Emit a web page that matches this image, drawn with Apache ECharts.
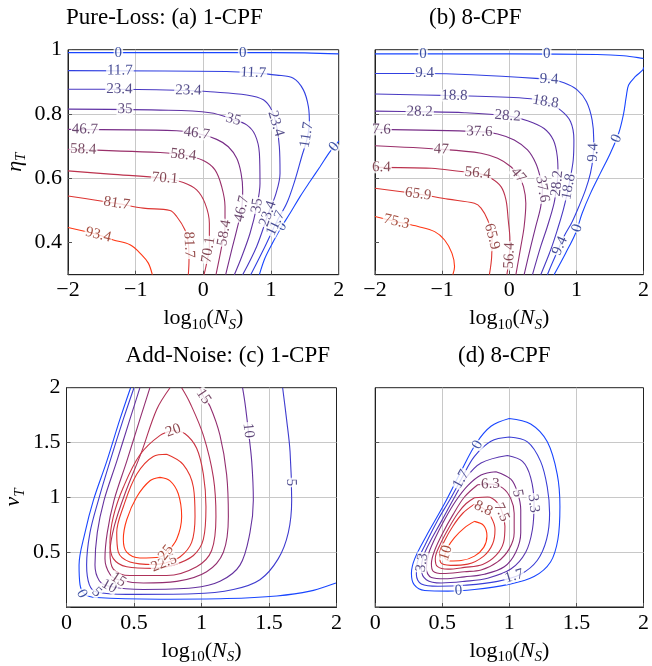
<!DOCTYPE html>
<html><head><meta charset="utf-8">
<script src="https://cdn.jsdelivr.net/npm/echarts@6/dist/echarts.min.js"></script>
<style>html,body{margin:0;padding:0;background:#fff}#c{width:652px;height:666px}</style>
</head><body><div id="c"></div>
<script>
// ================= DATA =================
// Panel (a) Pure-Loss, 1-CPF : x = log10(N_S), y = eta_T
const a0Top   = [[-2,0.991],[-1,0.991],[0,0.991],[1,0.991],[1.5,0.99],[2,0.987]];
const a0TopL  = [[-1.256,0.991],[0.581,0.991]];
const a0Right = [[2,0.716],[1.995,0.714],[1.872,0.683],[1.724,0.636],[1.576,0.590],[1.429,0.543],[1.281,0.491],[1.158,0.450],[1.034,0.403],[0.911,0.352],[0.828,0.3]];
const a0RightL= [[1.931,0.698],[1.158,0.450]];
const a117  = [[-2,0.935],[0.345,0.932],[0.739,0.928],[1.084,0.921],[1.330,0.911],[1.478,0.875],[1.552,0.823],[1.567,0.771],[1.527,0.719],[1.453,0.667],[1.355,0.595],[1.232,0.522],[1.084,0.465],[0.911,0.388],[0.700,0.3]];
const a117L = [[-1.232,0.935],[0.739,0.928],[1.527,0.735],[1.07,0.46]];
const a234  = [[-2,0.877],[-1.281,0.877],[-0.222,0.873],[0.099,0.869],[0.640,0.859],[0.887,0.844],[1.010,0.812],[1.084,0.761],[1.123,0.698],[1.133,0.616],[1.074,0.553],[0.961,0.491],[0.788,0.388],[0.581,0.3]];
const a234L = [[-1.241,0.877],[-0.222,0.873],[1.07,0.77],[0.955,0.49]];
const a35   = [[-2,0.815],[-0.640,0.812],[0.099,0.804],[0.443,0.783],[0.640,0.766],[0.764,0.735],[0.828,0.678],[0.837,0.584],[0.788,0.512],[0.690,0.429],[0.567,0.356],[0.458,0.3]];
const a35L  = [[-1.158,0.815],[0.443,0.783],[0.795,0.515]];
const a467  = [[-2,0.752],[-0.394,0.748],[-0.099,0.740],[0.197,0.721],[0.369,0.698],[0.493,0.662],[0.557,0.616],[0.581,0.564],[0.567,0.507],[0.493,0.439],[0.419,0.377],[0.330,0.3]];
const a467L = [[-1.749,0.752],[-0.099,0.740],[0.567,0.505]];
const a584  = [[-2,0.690],[-0.640,0.680],[-0.296,0.673],[0,0.655],[0.172,0.626],[0.271,0.574],[0.320,0.512],[0.320,0.450],[0.271,0.388],[0.187,0.3]];
const a584L = [[-1.773,0.690],[-0.296,0.673],[0.31,0.43]];
const a701  = [[-2,0.623],[-1.379,0.613],[-0.567,0.600],[-0.296,0.587],[-0.099,0.564],[0.025,0.522],[0.089,0.460],[0.089,0.388],[0.049,0.336],[0.010,0.3]];
const a701L = [[-0.567,0.600],[0.074,0.377]];
const a817  = [[-2,0.545],[-1.281,0.522],[-0.887,0.507],[-0.493,0.500],[-0.394,0.481],[-0.271,0.439],[-0.222,0.398],[-0.212,0.346],[-0.222,0.3]];
const a817L = [[-1.281,0.522],[-0.212,0.393]];
const a934  = [[-2,0.447],[-1.552,0.424],[-1.330,0.408],[-1.084,0.393],[-0.911,0.362],[-0.813,0.336],[-0.754,0.3]];
const a934L = [[-1.552,0.424]];

// Panel (b) Pure-Loss, 8-CPF
const b0Top   = [[-2,0.987],[0,0.987],[1.309,0.985],[1.704,0.981],[1.990,0.973],[2,0.972]];
const b0TopL  = [[-1.284,0.987],[0.558,0.987]];
const b0Right = [[2,0.945],[1.990,0.937],[1.877,0.916],[1.778,0.890],[1.743,0.854],[1.704,0.802],[1.630,0.740],[1.506,0.678],[1.358,0.616],[1.210,0.553],[1.086,0.491],[0.988,0.429],[0.840,0.367],[0.667,0.3]];
const b0RightL= [[1.60,0.724],[1.013,0.445]];
const b94   = [[-2,0.926],[-1.259,0.926],[0.593,0.908],[0.815,0.897],[1.012,0.875],[1.151,0.838],[1.235,0.781],[1.259,0.719],[1.249,0.667],[1.210,0.616],[1.136,0.564],[1.037,0.512],[0.938,0.465],[0.815,0.419],[0.716,0.372],[0.617,0.325],[0.568,0.3]];
const b94L  = [[-1.259,0.926],[0.593,0.908],[1.252,0.68],[0.755,0.39]];
const b188  = [[-2,0.862],[-0.815,0.857],[0.222,0.849],[0.543,0.838],[0.765,0.812],[0.914,0.776],[0.963,0.719],[0.953,0.657],[0.904,0.595],[0.864,0.553],[0.805,0.502],[0.716,0.439],[0.617,0.377],[0.469,0.3]];
const b188L = [[-0.815,0.857],[0.543,0.838],[0.884,0.574]];
const b282  = [[-2,0.809],[-1.333,0.807],[-0.667,0.804],[-0.025,0.794],[0.272,0.779],[0.519,0.755],[0.657,0.719],[0.716,0.667],[0.726,0.616],[0.706,0.574],[0.667,0.522],[0.568,0.450],[0.469,0.388],[0.346,0.3]];
const b282L = [[-1.333,0.807],[-0.025,0.794],[0.712,0.584]];
const b376  = [[-2,0.752],[-0.444,0.745],[-0.173,0.738],[0.074,0.719],[0.272,0.688],[0.395,0.647],[0.459,0.605],[0.494,0.564],[0.469,0.512],[0.395,0.450],[0.321,0.388],[0.222,0.3]];
const b376L = [[-1.905,0.752,'7.6'],[-0.444,0.745],[0.494,0.566]];
const b47   = [[-2,0.701],[-1.012,0.690],[-0.420,0.678],[-0.173,0.662],[0.025,0.636],[0.133,0.610],[0.212,0.574],[0.247,0.522],[0.222,0.450],[0.173,0.388],[0.099,0.3]];
const b47L  = [[-1.012,0.690],[0.133,0.610]];
const b564  = [[-2,0.634],[-1.160,0.631],[-0.716,0.621],[-0.469,0.616],[-0.272,0.600],[-0.123,0.574],[-0.049,0.533],[-0.015,0.470],[0.010,0.408],[0,0.356],[-0.035,0.3]];
const b564L = [[-1.905,0.634,'6.4'],[-0.469,0.616],[0.003,0.36]];
const b659  = [[-2,0.569],[-1.358,0.551],[-0.914,0.535],[-0.519,0.522],[-0.420,0.507],[-0.321,0.470],[-0.257,0.419],[-0.262,0.356],[-0.296,0.3]];
const b659L = [[-1.358,0.551],[-0.257,0.419]];
const b753  = [[-2,0.481],[-1.679,0.465],[-1.358,0.450],[-1.111,0.434],[-0.963,0.408],[-0.854,0.367],[-0.815,0.325],[-0.840,0.3]];
const b753L = [[-1.679,0.465]];

// Panel (c) Add-Noise, 1-CPF : y = nu_T
const c0   = [[0.475,2.0],[0.396,1.713],[0.298,1.328],[0.199,0.973],[0.137,0.678],[0.093,0.382],[0.1,0.204],[0.137,0.115],[0.223,0.086],[0.693,0.071],[1.186,0.077],[1.557,0.101],[1.804,0.145],[1.996,0.219],[2,0.221]];
const c0L  = [[0.112,0.121]];
const c5   = [[0.5,2.0],[0.421,1.713],[0.322,1.328],[0.236,0.973],[0.174,0.678],[0.149,0.382],[0.169,0.204],[0.223,0.136],[0.446,0.115],[0.940,0.121],[1.236,0.160],[1.433,0.249],[1.569,0.441],[1.643,0.678],[1.668,0.973],[1.656,1.417],[1.630,1.713],[1.601,2.0]];
const c5L  = [[0.223,0.136],[1.663,1.136]];
const c10  = [[0.544,2.0],[0.470,1.713],[0.372,1.328],[0.278,0.973],[0.228,0.678],[0.211,0.382],[0.243,0.240],[0.317,0.189],[0.569,0.160],[0.940,0.175],[1.137,0.234],[1.285,0.382],[1.359,0.678],[1.384,0.973],[1.372,1.328],[1.347,1.609],[1.322,1.861],[1.304,2.0]];
const c10L = [[0.317,0.189],[1.347,1.609]];
const c15  = [[0.618,2.0],[0.544,1.713],[0.446,1.328],[0.352,0.973],[0.302,0.678],[0.285,0.441],[0.322,0.299],[0.384,0.249],[0.569,0.219],[0.816,0.234],[1.038,0.322],[1.162,0.5],[1.199,0.825],[1.186,1.210],[1.137,1.565],[1.063,1.831],[1.014,1.920],[0.989,2.0]];
const c15L = [[0.384,0.249],[1.014,1.920]];
const c175 = [[0.767,2.0],[0.668,1.802],[0.557,1.417],[0.433,1.033],[0.354,0.737],[0.322,0.5],[0.347,0.346],[0.470,0.287],[0.742,0.287],[0.964,0.367],[1.075,0.515],[1.107,0.825],[1.088,1.182],[1.014,1.565],[0.915,1.861],[0.853,2.0]];
const c175L = [];
const c20  = [[0.791,1.609],[0.693,1.565],[0.544,1.388],[0.421,1.092],[0.347,0.825],[0.322,0.589],[0.347,0.441],[0.446,0.367],[0.643,0.352],[0.791,0.382],[0.940,0.470],[1.014,0.618],[1.033,0.914],[1.014,1.210],[0.964,1.447],[0.878,1.580],[0.791,1.609]];
const c20L = [[0.791,1.609]];
const c225 = [[0.742,1.393],[0.643,1.373],[0.520,1.210],[0.421,0.914],[0.372,0.678],[0.384,0.5],[0.470,0.411],[0.643,0.388],[0.722,0.398],[0.840,0.456],[0.927,0.589],[0.952,0.825],[0.940,1.092],[0.865,1.299],[0.742,1.393]];
const c225L = [[0.722,0.400]];
const c25  = [[0.693,1.182],[0.618,1.151],[0.520,1.003],[0.446,0.796],[0.421,0.618],[0.446,0.5],[0.544,0.447],[0.693,0.456],[0.737,0.490],[0.816,0.618],[0.853,0.825],[0.828,1.033],[0.767,1.151],[0.693,1.182]];
const c25L = [[0.737,0.495]];

// Panel (d) Add-Noise, 8-CPF
const d0   = [[0.999,1.719],[1.159,1.669],[1.283,1.506],[1.357,1.210],[1.377,0.914],[1.362,0.618],[1.307,0.411],[1.184,0.278],[0.986,0.204],[0.740,0.160],[0.542,0.145],[0.369,0.151],[0.290,0.204],[0.270,0.308],[0.295,0.441],[0.381,0.648],[0.517,0.944],[0.641,1.240],[0.752,1.491],[0.863,1.648],[0.999,1.719]];
const d0L  = [[0.764,1.480],[0.621,0.150]];
const d17  = [[0.999,1.550],[1.135,1.506],[1.233,1.328],[1.283,1.092],[1.300,0.855],[1.278,0.618],[1.209,0.426],[1.085,0.299],[0.912,0.234],[0.665,0.198],[0.468,0.189],[0.344,0.210],[0.307,0.293],[0.315,0.411],[0.369,0.559],[0.468,0.796],[0.554,0.973],[0.641,1.166],[0.740,1.373],[0.863,1.512],[0.999,1.550]];
const d17L = [[0.641,1.166],[1.036,0.281]];
const d33  = [[0.986,1.382],[1.098,1.328],[1.159,1.180],[1.184,0.944],[1.172,0.707],[1.122,0.5],[1.011,0.346],[0.838,0.263],[0.665,0.234],[0.493,0.219],[0.381,0.249],[0.344,0.346],[0.357,0.456],[0.406,0.589],[0.493,0.781],[0.579,0.973],[0.678,1.180],[0.789,1.314],[0.986,1.382]];
const d33L = [[1.18,0.944],[0.349,0.405]];
const d5   = [[0.900,1.234],[1.011,1.166],[1.060,1.047],[1.085,0.885],[1.085,0.678],[1.048,0.5],[0.962,0.367],[0.814,0.299],[0.665,0.275],[0.517,0.257],[0.419,0.269],[0.381,0.346],[0.394,0.470],[0.443,0.618],[0.517,0.796],[0.604,0.973],[0.690,1.107],[0.789,1.204],[0.900,1.234]];
const d5L  = [[1.062,1.038]];
const d63  = [[0.764,1.115],[0.858,1.121],[0.949,1.086],[1.011,0.988],[1.036,0.855],[1.036,0.678],[0.999,0.530],[0.912,0.411],[0.789,0.337],[0.665,0.322],[0.505,0.305],[0.431,0.328],[0.419,0.396],[0.443,0.515],[0.505,0.678],[0.579,0.840],[0.665,1.003],[0.764,1.115]];
const d63L = [[0.858,1.121]];
const d75  = [[0.740,0.997],[0.838,1.003],[0.912,0.950],[0.949,0.855],[0.967,0.737],[0.957,0.589],[0.900,0.470],[0.801,0.388],[0.665,0.361],[0.542,0.345],[0.463,0.370],[0.448,0.441],[0.480,0.559],[0.542,0.707],[0.616,0.855],[0.678,0.944],[0.740,0.997]];
const d75L = [[0.942,0.864]];
const d88  = [[0.740,0.938],[0.806,0.899],[0.863,0.820],[0.893,0.707],[0.875,0.574],[0.809,0.464],[0.690,0.391],[0.562,0.380],[0.488,0.405],[0.480,0.485],[0.517,0.604],[0.579,0.737],[0.653,0.855],[0.740,0.938]];
const d88L = [[0.806,0.899]];
const d10  = [[0.740,0.781],[0.809,0.743],[0.833,0.648],[0.809,0.544],[0.740,0.464],[0.641,0.424],[0.554,0.420],[0.517,0.456],[0.537,0.536],[0.591,0.633],[0.665,0.722],[0.740,0.781]];
const d10L = [[0.527,0.494]];

// contour levels per panel and the line each level belongs to
const panelA = [[0,a0Top,a0TopL],[0,a0Right,a0RightL],[11.7,a117,a117L],[23.4,a234,a234L],[35,a35,a35L],[46.7,a467,a467L],[58.4,a584,a584L],[70.1,a701,a701L],[81.7,a817,a817L],[93.4,a934,a934L]];
const panelB = [[0,b0Top,b0TopL],[0,b0Right,b0RightL],[9.4,b94,b94L],[18.8,b188,b188L],[28.2,b282,b282L],[37.6,b376,b376L],[47,b47,b47L],[56.4,b564,b564L],[65.9,b659,b659L],[75.3,b753,b753L]];
const panelC = [[0,c0,c0L],[5,c5,c5L],[10,c10,c10L],[15,c15,c15L],[17.5,c175,c175L],[20,c20,c20L],[22.5,c225,c225L],[25,c25,c25L]];
const panelD = [[0,d0,d0L],[1.7,d17,d17L],[3.3,d33,d33L],[5,d5,d5L],[6.3,d63,d63L],[7.5,d75,d75L],[8.8,d88,d88L],[10,d10,d10L]];
const panelMax = [93.4, 75.3, 25, 10];

const titles = ['Pure-Loss: (a) 1-CPF', '(b) 8-CPF', 'Add-Noise: (c) 1-CPF', '(d) 8-CPF'];
const xTickA = [-2, 2, 1];   // min, max, interval
const xTickC = [0, 2, 0.5];
const yTickA = [0.4, 0.6, 0.8, 1];
const yTickC = [0, 2, 0.5];

// ================= DRAWING =================
const FONT = "'Liberation Serif','Times New Roman',serif";
const chart = echarts.init(document.getElementById('c'));
const panels = [panelA, panelB, panelC, panelD];

function lvColor(t) {
  const stops = [[0,[25,70,255]],[0.5,[120,45,135]],[1,[255,55,20]]];
  t = Math.max(0, Math.min(1, t));
  let i = t <= 0.5 ? 0 : 1;
  const a = stops[i], b = stops[i+1];
  const u = (t - a[0]) / (b[0] - a[0]);
  return a[1].map((v,k)=>Math.round(v + (b[1][k]-v)*u));
}
const rgb = c => 'rgb(' + c.join(',') + ')';
const dark = c => 'rgb(' + c.map(v=>Math.round(v*0.55)).join(',') + ')';
const fmt = v => (v < 0 ? '\u2212' + Math.abs(v) : String(v));

const grids = [
  {left:68, top:49.7, width:270.7, height:225},
  {left:375, top:49.7, width:270, height:225},
  {left:66.5, top:387.7, width:270, height:225.3},
  {left:375.2, top:387.7, width:270, height:225.3}
].map(g => Object.assign(g, {show:true, borderColor:'#222', borderWidth:1, containLabel:false}));

const nameRich = {
  n:{fontFamily:FONT, fontSize:22, lineHeight:28, color:'#000'},
  s:{fontFamily:FONT, fontSize:15, lineHeight:14, verticalAlign:'bottom', color:'#000'},
  i:{fontFamily:FONT, fontSize:22, lineHeight:28, fontStyle:'italic', color:'#000'},
  si:{fontFamily:FONT, fontSize:15, lineHeight:14, verticalAlign:'bottom', fontStyle:'italic', color:'#000'}
};

const xAxis = grids.map((g, i) => {
  const t = i < 2 ? xTickA : xTickC;
  return {
    type:'value', gridIndex:i, min:t[0], max:t[1], interval:t[2],
    axisLine:{show:true, onZero:false, lineStyle:{color:'#222', width:1}},
    axisTick:{show:true, inside:true, length:4, lineStyle:{color:'#555'}},
    splitLine:{show:true, showMinLine:false, showMaxLine:false, lineStyle:{color:'#c8c8c8', width:1}},
    axisLabel:{fontFamily:FONT, fontSize:22, color:'#000', margin:5, formatter:fmt},
    name:'{n|log}{s|10}{n|(}{i|N}{si|S}{n|)}', nameLocation:'middle', nameGap:30,
    nameTextStyle:{rich:nameRich}
  };
});

const yAxis = grids.map((g, i) => {
  const base = {
    type:'value', gridIndex:i,
    axisLine:{show:true, onZero:false, lineStyle:{color:'#222', width:1}},
    splitLine:{show:true, showMinLine:false, showMaxLine:false, lineStyle:{color:'#c8c8c8', width:1}},
    nameLocation:'middle', nameGap:39, nameTextStyle:{rich:nameRich}
  };
  if (i < 2) {
    Object.assign(base, {min:0.3, max:1,
      axisTick:{show:true, inside:true, length:4, customValues:yTickA, lineStyle:{color:'#555'}},
      axisLabel:{show:i===0, customValues:yTickA, fontFamily:FONT, fontSize:22, color:'#000', margin:6, formatter:fmt}});
    if (i === 0) base.name = '{i|η}{si|T}';
  } else {
    Object.assign(base, {min:yTickC[0], max:yTickC[1], interval:yTickC[2],
      axisTick:{show:true, inside:true, length:4, lineStyle:{color:'#555'}},
      axisLabel:{show:i===2, fontFamily:FONT, fontSize:22, color:'#000', margin:6, formatter:v => (v === 0 ? '' : fmt(v))}});
    if (i === 2) base.name = '{i|ν}{si|T}';
  }
  return base;
});

const titleOpt = [
  {text:titles[0], left:66, top:6},
  {text:titles[1], left:429, top:6},
  {text:titles[2], right:322, top:344},
  {text:titles[3], left:458, top:344}
].map(t => Object.assign(t, {padding:0, textStyle:{fontFamily:FONT, fontSize:23, fontWeight:'normal', color:'#000'}}));

function buildSeries(rotFn) {
  const series = [];
  panels.forEach((contours, gi) => {
    contours.forEach(([lv, pts, labs]) => {
      const c = lvColor(lv / panelMax[gi]);
      series.push({type:'line', xAxisIndex:gi, yAxisIndex:gi, data:pts, symbol:'none', showSymbol:false,
        smooth:0.35, clip:true, silent:true, animation:false, z:2,
        lineStyle:{color:rgb(c), width:1.1}});
      series.push({type:'scatter', xAxisIndex:gi, yAxisIndex:gi, symbolSize:1, silent:true, animation:false, z:4,
        itemStyle:{color:'rgba(0,0,0,0)'},
        label:{show:true, position:'inside', formatter:'{b}', fontFamily:FONT, fontSize:15, color:dark(c),
          backgroundColor:'#fff', padding:[0,1], lineHeight:12},
        data:labs.map(q => ({value:[q[0], q[1]], name:(q[2] !== undefined ? q[2] : String(lv)),
          label:{rotate: rotFn ? rotFn(gi, pts, q) : 0}}))});
    });
  });
  return series;
}

const option = {animation:false, backgroundColor:'#fff', title:titleOpt, grid:grids, xAxis, yAxis, series:buildSeries(null)};
chart.setOption(option);

function rotFn(gi, pts, q) {
  const P = chart.convertToPixel({gridIndex:gi}, [q[0], q[1]]);
  let best = Infinity, ang = 0;
  for (let k = 0; k < pts.length - 1; k++) {
    const A = chart.convertToPixel({gridIndex:gi}, pts[k]);
    const B = chart.convertToPixel({gridIndex:gi}, pts[k+1]);
    const dx = B[0]-A[0], dy = B[1]-A[1];
    const L2 = dx*dx + dy*dy || 1;
    let u = ((P[0]-A[0])*dx + (P[1]-A[1])*dy) / L2;
    u = Math.max(0, Math.min(1, u));
    const ex = A[0] + u*dx - P[0], ey = A[1] + u*dy - P[1];
    const d = ex*ex + ey*ey;
    if (d < best) { best = d; ang = Math.atan2(dy, dx); }
  }
  let deg = -ang * 180 / Math.PI;
  while (deg > 90) deg -= 180;
  while (deg <= -90) deg += 180;
  return deg;
}
chart.setOption({series:buildSeries(rotFn)});
</script></body></html>
